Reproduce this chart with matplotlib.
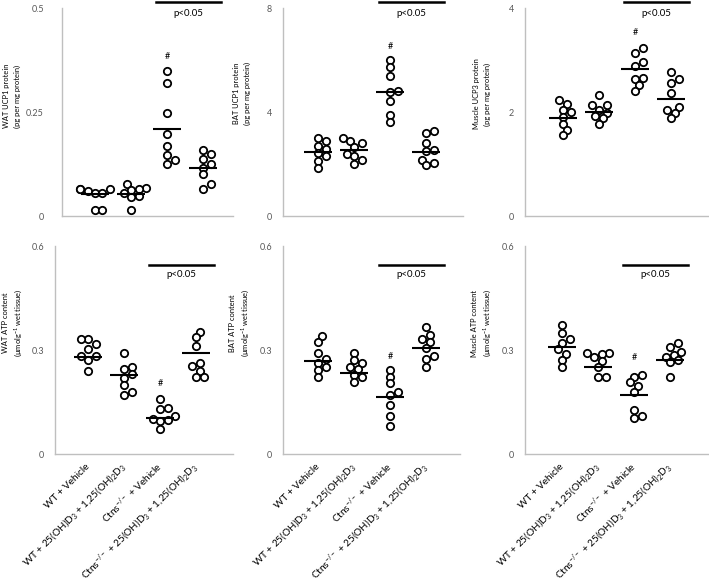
import numpy as np
import matplotlib.pyplot as plt

plt.rcParams['font.family'] = ['Lato', 'DejaVu Sans']
plt.rcParams['mathtext.default'] = 'regular'

groups = ["WT + Vehicle",
          r"WT + 25(OH)D$_3$ + 1,25(OH)$_2$D$_3$",
          r"Ctns$^{-/-}$ + Vehicle",
          r"Ctns$^{-/-}$ + 25(OH)D$_3$ + 1,25(OH)$_2$D$_3$"]

# 各组 8 个样本
wat_ucp1 = [[0.065, 0.065, 0.065, 0.06, 0.055, 0.055, 0.015, 0.015],
            [0.077, 0.067, 0.065, 0.063, 0.055, 0.047, 0.045, 0.015],
            [0.348, 0.32, 0.248, 0.198, 0.168, 0.146, 0.135, 0.126],
            [0.158, 0.148, 0.136, 0.126, 0.116, 0.1, 0.076, 0.066]]
wat_ucp1_mean = [0.054, 0.054, 0.208, 0.116]

bat_ucp1 = [[3.0, 2.88, 2.69, 2.59, 2.43, 2.3, 2.12, 1.86],
            [3.0, 2.88, 2.82, 2.65, 2.39, 2.3, 2.15, 2.0],
            [5.99, 5.72, 5.38, 4.8, 4.76, 4.42, 3.87, 3.61],
            [3.26, 3.18, 2.79, 2.54, 2.5, 2.15, 2.02, 1.95]]
bat_ucp1_mean = [2.46, 2.52, 4.76, 2.46]

muscle_ucp3 = [[2.24, 2.15, 2.04, 2.0, 1.91, 1.77, 1.66, 1.55],
               [2.32, 2.13, 2.13, 2.04, 1.98, 1.92, 1.88, 1.77],
               [3.23, 3.14, 2.97, 2.88, 2.66, 2.64, 2.52, 2.41],
               [2.77, 2.64, 2.56, 2.36, 2.1, 2.04, 1.98, 1.88]]
muscle_ucp3_mean = [1.88, 2.0, 2.82, 2.25]

wat_atp = [[0.331, 0.331, 0.316, 0.303, 0.283, 0.283, 0.271, 0.238],
           [0.29, 0.252, 0.244, 0.231, 0.22, 0.199, 0.18, 0.169],
           [0.16, 0.133, 0.131, 0.11, 0.1, 0.098, 0.094, 0.073],
           [0.353, 0.338, 0.312, 0.262, 0.254, 0.24, 0.223, 0.223]]
wat_atp_mean = [0.281, 0.228, 0.103, 0.29]

bat_atp = [[0.34, 0.324, 0.292, 0.273, 0.262, 0.252, 0.243, 0.223],
           [0.29, 0.271, 0.262, 0.252, 0.244, 0.228, 0.223, 0.209],
           [0.243, 0.223, 0.204, 0.18, 0.169, 0.14, 0.111, 0.08],
           [0.367, 0.343, 0.331, 0.324, 0.307, 0.283, 0.273, 0.252]]
bat_atp_mean = [0.268, 0.235, 0.164, 0.307]

muscle_atp = [[0.372, 0.35, 0.331, 0.319, 0.303, 0.289, 0.271, 0.25],
              [0.292, 0.29, 0.288, 0.279, 0.269, 0.252, 0.223, 0.223],
              [0.228, 0.223, 0.207, 0.195, 0.18, 0.128, 0.11, 0.104],
              [0.319, 0.309, 0.295, 0.286, 0.281, 0.271, 0.264, 0.221]]
muscle_atp_mean = [0.308, 0.252, 0.171, 0.271]

ylabels = ["WAT UCP1 protein\n(pg per mg protein)",
           "BAT UCP1 protein\n(pg per mg protein)",
           "Muscle UCP3 protein\n(pg per mg protein)",
           "WAT ATP content\n(µmolg$^{-1}$ wet tissue)",
           "BAT ATP content\n(µmolg$^{-1}$ wet tissue)",
           "Muscle ATP content\n(µmolg$^{-1}$ wet tissue)"]
ymax = [0.5, 8, 4, 0.6, 0.6, 0.6]
ytick_labels = [["0", "0.25", "0.5"], ["0", "4", "8"], ["0", "2", "4"],
                ["0", "0.3", "0.6"], ["0", "0.3", "0.6"], ["0", "0.3", "0.6"]]
hash_y = [0.384, 6.53, 3.53, 0.202, 0.281, 0.278]
sig_text = "p<0.05"

datasets = [(wat_ucp1, wat_ucp1_mean), (bat_ucp1, bat_ucp1_mean),
            (muscle_ucp3, muscle_ucp3_mean), (wat_atp, wat_atp_mean),
            (bat_atp, bat_atp_mean), (muscle_atp, muscle_atp_mean)]

W, H = 709, 585
# 版面 (像素): 左边界, 右边界, 第一组中心, 底, 顶
layout = [(62, 233, 95, 216, 8), (283, 463, 318, 216, 8), (525, 709, 563, 216, 8),
          (55, 233, 88, 454, 246), (283, 460, 318, 454, 246), (525, 709, 562, 454, 246)]
label_x = [12, 242, 482, 13, 240, 482]
label_y = [96, 93, 94, 323, 323, 323]
ytick_pad = [13, 8, 8, 8, 8, 8]
SP = 36.0
DIAM = 7.5


def swarm(ax, x0, vals):
    """ 简单蜂群排布, 允许圆点部分重叠 """
    pts = ax.transData.transform(np.column_stack([np.full(len(vals), x0), vals]))
    order = np.argsort(pts[:, 1])
    placed = []
    out = pts.copy()
    for i in order:
        for k in [0, 1, -1, 2, -2, 3, -3, 4, -4]:
            cx = pts[i, 0] + k * DIAM * 0.5
            if all((cx - px) ** 2 + (pts[i, 1] - py) ** 2 >= (DIAM * 0.85) ** 2 for px, py in placed):
                break
        placed.append((cx, pts[i, 1]))
        out[i, 0] = cx
    return ax.transData.inverted().transform(out)


fig = plt.figure(figsize=(W / 100, H / 100), dpi=100)
for p, ((vals, means), (l, r, c1, b, t)) in enumerate(zip(datasets, layout)):
    ax = fig.add_axes([l / W, 1 - b / H, (r - l) / W, (b - t) / H])
    ax.set_xlim(1 + (l - c1) / SP, 1 + (r - c1) / SP)
    ax.set_ylim(0, ymax[p])
    for s in ['top', 'right']:
        ax.spines[s].set_visible(False)
    for s in ['left', 'bottom']:
        ax.spines[s].set_color('#bfbfbf')
        ax.spines[s].set_linewidth(1)
    ax.set_yticks([0, ymax[p] / 2, ymax[p]])
    ax.set_yticklabels(ytick_labels[p])
    ax.tick_params(axis='y', length=0, pad=ytick_pad[p], labelsize=6.5, labelcolor='#595959')
    ax.set_xticks(range(1, 5))
    if p >= 3:
        ax.set_xticklabels(groups, rotation=45, ha='right', va='center',
                           rotation_mode='anchor', fontsize=7.2)
        ax.tick_params(axis='x', length=0, pad=8)
    else:
        ax.set_xticklabels([])
        ax.tick_params(axis='x', length=0)

    for g in range(4):
        xy = swarm(ax, g + 1, vals[g])
        ax.scatter(xy[:, 0], xy[:, 1], s=28, facecolor='white', edgecolor='black',
                   linewidth=1.3, zorder=3, clip_on=False)
        ax.hlines(means[g], g + 1 - 0.4, g + 1 + 0.4, color='black', lw=1.5, zorder=4)

    ax.text(3, hash_y[p], "#", ha='center', va='center', fontsize=6.5)
    tr = ax.get_xaxis_transform()
    by, ty = (1.03, 0.975) if p < 3 else (0.91, 0.862)
    ax.plot([2.7, 4.5], [by, by], color='black', lw=1.8, transform=tr, clip_on=False)
    ax.text(3.6, ty, sig_text, ha='center', va='center', fontsize=7, transform=tr)

    fig.text(label_x[p] / W, 1 - label_y[p] / H, ylabels[p], rotation=90,
             ha='center', va='center', fontsize=5.4, linespacing=1.5)

plt.savefig("out.png", dpi=100)
plt.close()
